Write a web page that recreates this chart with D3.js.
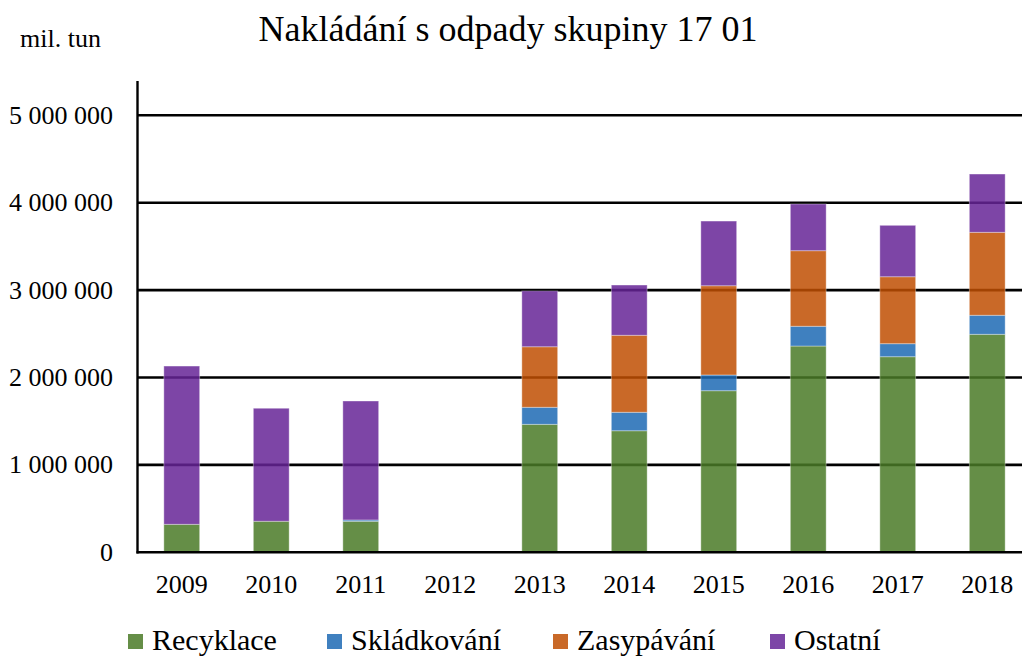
<!DOCTYPE html>
<html>
<head>
<meta charset="utf-8">
<script src="https://cdn.jsdelivr.net/npm/d3@7"></script>
<style>
  html, body { margin: 0; padding: 0; background: #fff; }
  svg { display: block; }
</style>
</head>
<body>
<svg id="chart" width="1022" height="656"></svg>
<script>
const years = ["2009","2010","2011","2012","2013","2014","2015","2016","2017","2018"];
const recyklace   = [320000, 355000, 355000, 0, 1464000, 1391000, 1849000, 2360000, 2238000, 2494000];
const skladkovani = [0, 0, 15000, 0, 195000, 211000, 180000, 226000, 149000, 218000];
const zasypavani  = [0, 0, 0, 0, 693000, 881000, 1021000, 865000, 766000, 949000];
const ostatni     = [1811000, 1293000, 1361000, 0, 638000, 575000, 740000, 534000, 588000, 667000];
const seriesNames = ["Recyklace", "Skládkování", "Zasypávání", "Ostatní"];
const seriesKeys = ["rec", "skl", "zas", "ost"];
const yTicks = [0, 1000000, 2000000, 3000000, 4000000, 5000000];
const title = "Nakládání s odpady skupiny 17 01";
const unitLabel = "mil. tun";

const colors = { rec: "#4A7A27", skl: "#1D6AB4", zas: "#BF4F02", ost: "#662597" };
const legendColors = { rec: "#658E47", skl: "#3F80BF", zas: "#C96928", ost: "#7D46A7" };

const table = years.map((y, i) => ({
  year: y, rec: recyklace[i], skl: skladkovani[i], zas: zasypavani[i], ost: ostatni[i]
}));

const FONT = "'Liberation Serif', 'DejaVu Serif', 'Times New Roman', serif";
const svg = d3.select("#chart").attr("font-family", FONT);
const x = d3.scaleBand().domain(years).range([137, 1032]).paddingInner(0.6).paddingOuter(0.3);
const y = d3.scaleLinear().domain([0, 5000000]).range([552.3, 115.3]);

const fmt = v => d3.format(",")(v).replace(/,/g, " ");

// gridlines
const grid = svg.append("g");
grid.selectAll("line").data(yTicks.filter(t => t > 0)).join("line")
  .attr("x1", 137).attr("x2", 1022)
  .attr("y1", d => y(d)).attr("y2", d => y(d))
  .attr("stroke", "#000").attr("stroke-width", 2.6);

// y labels
svg.append("g").selectAll("text").data(yTicks).join("text")
  .attr("x", 113).attr("y", d => y(d)).attr("dy", "0.33em")
  .attr("text-anchor", "end").attr("font-size", 26).attr("font-family", FONT)
  .text(d => fmt(d));

// stacked bars
const stack = d3.stack().keys(seriesKeys)(table);
svg.append("g").selectAll("g").data(stack).join("g")
  .attr("fill", d => colors[d.key])
  .selectAll("rect").data(d => d.filter(p => p[1] - p[0] > 0)).join("rect")
  .attr("x", d => x(d.data.year))
  .attr("width", x.bandwidth())
  .attr("y", d => y(d[1]))
  .attr("height", d => y(d[0]) - y(d[1]))
  .attr("fill-opacity", 0.85)
  .attr("stroke", "#fff").attr("stroke-opacity", 0.35).attr("stroke-width", 1);

// axes lines
svg.append("line").attr("x1", 137.5).attr("x2", 137.5).attr("y1", 81).attr("y2", 553.5)
  .attr("stroke", "#000").attr("stroke-width", 2.4);
svg.append("line").attr("x1", 136.5).attr("x2", 1022).attr("y1", y(0)).attr("y2", y(0))
  .attr("stroke", "#000").attr("stroke-width", 2.6);

// x labels
svg.append("g").selectAll("text").data(years).join("text")
  .attr("x", d => x(d) + x.bandwidth() / 2).attr("y", 593)
  .attr("text-anchor", "middle").attr("font-size", 26).attr("font-family", FONT)
  .text(d => d);

// title & unit
svg.append("text").attr("x", 508).attr("y", 41).attr("text-anchor", "middle")
  .attr("font-size", 36).attr("font-family", FONT).text(title);
svg.append("text").attr("x", 20).attr("y", 47).attr("font-size", 26)
  .attr("font-family", FONT).text(unitLabel);

// legend
const legendX = [128, 327, 553, 770];
const lg = svg.append("g").selectAll("g").data(seriesKeys).join("g")
  .attr("transform", (d, i) => `translate(${legendX[i]},0)`);
lg.append("rect").attr("x", 0).attr("y", 634).attr("width", 15).attr("height", 15)
  .attr("fill", d => legendColors[d]);
lg.append("text").attr("x", 24).attr("y", 650).attr("font-size", 30).attr("font-family", FONT)
  .text((d, i) => seriesNames[i]);
</script>
</body>
</html>
